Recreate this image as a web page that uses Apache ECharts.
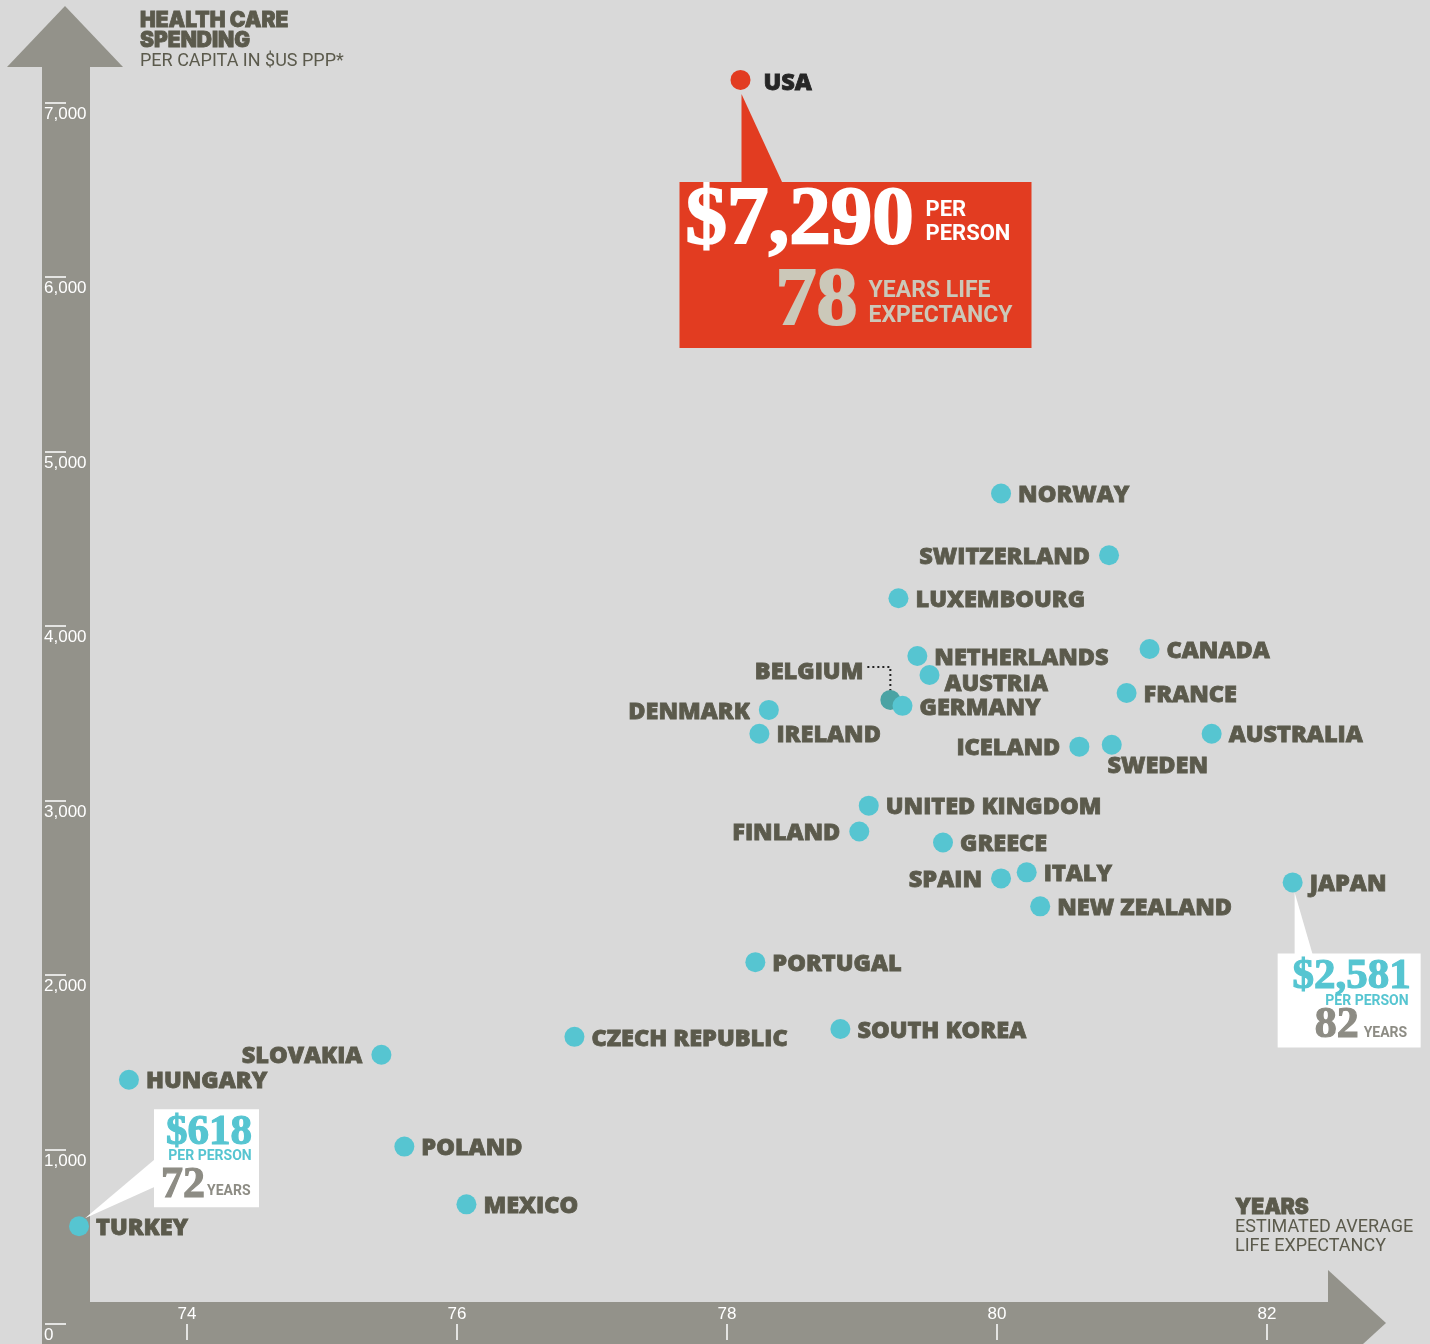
<!DOCTYPE html>
<html>
<head>
<meta charset="utf-8">
<title>Health care spending vs life expectancy</title>
<script src="https://cdn.jsdelivr.net/npm/echarts@6/dist/echarts.min.js"></script>
<style>
  html, body { margin: 0; padding: 0; background: #d9d9d9; }
  #chart { width: 1430px; height: 1344px; }
</style>
</head>
<body>
<div id="chart"></div>
<script>
// values (dot positions)
const countries = ['USA', 'NORWAY', 'SWITZERLAND', 'LUXEMBOURG', 'NETHERLANDS', 'CANADA', 'AUSTRIA',
  'BELGIUM', 'GERMANY', 'FRANCE', 'DENMARK', 'IRELAND', 'AUSTRALIA', 'ICELAND', 'SWEDEN',
  'UNITED KINGDOM', 'FINLAND', 'GREECE', 'ITALY', 'SPAIN', 'JAPAN', 'NEW ZEALAND', 'PORTUGAL',
  'SOUTH KOREA', 'CZECH REPUBLIC', 'SLOVAKIA', 'HUNGARY', 'POLAND', 'MEXICO', 'TURKEY'];
const lifeExpectancy = [78.10, 80.03, 80.83, 79.27, 79.41, 81.13, 79.50,
  79.21, 79.30, 80.96, 78.31, 78.24, 81.59, 80.61, 80.85,
  79.05, 78.98, 79.60, 80.22, 80.03, 82.19, 80.32, 78.21,
  78.84, 76.87, 75.44, 73.57, 75.61, 76.07, 73.20];
const spending = [7131, 4760, 4406, 4160, 3829, 3869, 3720,
  3577, 3543, 3617, 3520, 3383, 3383, 3309, 3320,
  2971, 2823, 2760, 2589, 2554, 2531, 2394, 2074,
  1691, 1646, 1543, 1400, 1017, 686, 560];

const xTicks = [74, 76, 78, 80, 82];
const yTicks = [0, 1000, 2000, 3000, 4000, 5000, 6000, 7000];

// callout boxes
const calloutCountry = ['USA', 'JAPAN', 'TURKEY'];
const calloutSpend = [7290, 2581, 618];
const calloutYears = [78, 82, 72];

const CYAN = '#56c5d1';
const RED = '#e23c21';
const INK = '#5b5a4c';
const AXIS_GREY = '#93928a';
const HEAVY = 'Open Sans';
const TITLE = 'Inter';
const PLAIN = 'Roboto';
const SERIF = 'Liberation Serif';

const labelLeft = ['SWITZERLAND', 'DENMARK', 'ICELAND', 'FINLAND', 'SPAIN', 'SLOVAKIA'];

function labelFor(name) {
  if (name === 'USA') return { position: 'right', distance: 13, offset: [0, 3], color: '#262626', textBorderColor: '#262626' };
  if (name === 'SWEDEN') return { position: 'bottom', distance: 0, offset: [46, 0] };
  if (name === 'AUSTRIA') return { position: 'right', distance: 5, offset: [0, 9] };
  if (name === 'BELGIUM') return { position: 'left', distance: 17, offset: [0, -28] };
  if (labelLeft.includes(name)) return { position: 'left', distance: 9, offset: [0, 2] };
  return { position: 'right', distance: 7, offset: [0, 2] };
}

const points = countries.map((name, i) => {
  const item = { name: name, value: [lifeExpectancy[i], spending[i]], label: labelFor(name) };
  if (name === 'USA') item.itemStyle = { color: RED };
  if (name === 'BELGIUM') item.itemStyle = { color: '#4aa3a4' };
  return item;
});

const chart = echarts.init(document.getElementById('chart'));

chart.setOption({
  backgroundColor: '#d9d9d9',
  animation: false,
  grid: { left: 52, right: 28, top: 15.5, bottom: 16 },
  xAxis: {
    type: 'value', min: 73, max: 83,
    axisLine: { show: false },
    splitLine: { show: false },
    axisTick: { show: true, inside: false, length: 16, customValues: xTicks,
      lineStyle: { color: '#ffffff', width: 1.5 } },
    axisLabel: { inside: true, margin: 1, customValues: xTicks, color: '#ffffff',
      fontSize: 17, fontFamily: 'Liberation Sans' }
  },
  yAxis: {
    type: 'value', min: 0, max: 7500, offset: -14,
    axisLine: { show: false },
    splitLine: { show: false },
    axisTick: { show: true, length: 21, customValues: yTicks,
      lineStyle: { color: '#ffffff', width: 1.5 } },
    axisLabel: { customValues: yTicks, align: 'left', verticalAlign: 'top', margin: 22,
      padding: [3, 0, 0, 0], color: '#ffffff', fontSize: 17, fontFamily: 'Liberation Sans',
      formatter: v => v.toLocaleString('en-US') }
  },
  series: [{
    type: 'scatter',
    symbolSize: 20,
    itemStyle: { color: CYAN, opacity: 1 },
    label: { show: true, formatter: '{b}', color: INK, fontFamily: HEAVY, fontWeight: 800,
      fontSize: 23.5, textBorderColor: INK, textBorderWidth: 0.8 },
    emphasis: { disabled: true },
    data: points
  }]
});

// decorations that hang off the data points
const px = name => {
  const i = countries.indexOf(name);
  return chart.convertToPixel({ seriesIndex: 0 }, [lifeExpectancy[i], spending[i]]);
};
const txt = (x, y, text, o) => ({
  type: 'text', x: x, y: y, z: o.z || 3,
  style: Object.assign({ text: text, fontFamily: PLAIN, fontWeight: 'bold', verticalAlign: 'middle' }, o.style)
});
const fat = (color, w) => ({ fill: color, fontFamily: SERIF, stroke: color, lineWidth: w });

const g = [];
// arrow-shaped axes
g.push({ type: 'rect', z: -1, shape: { x: 42, y: 67, width: 48, height: 1277 }, style: { fill: AXIS_GREY } });
g.push({ type: 'polygon', z: -1, shape: { points: [[7, 67], [123, 67], [65, 6]] }, style: { fill: AXIS_GREY } });
g.push({ type: 'rect', z: -1, shape: { x: 42, y: 1302, width: 1286, height: 42 }, style: { fill: AXIS_GREY } });
g.push({ type: 'polygon', z: -1, shape: { points: [[1328, 1270], [1386, 1323], [1328, 1376]] }, style: { fill: AXIS_GREY } });

// axis titles
g.push(txt(140, 11, 'HEALTH CARE\nSPENDING', { style: { fill: INK, stroke: INK, lineWidth: 0.8, fontFamily: TITLE, fontWeight: 900, fontSize: 21, lineHeight: 20, verticalAlign: 'top' } }));
g.push(txt(140, 61, 'PER CAPITA IN $US PPP*', { style: { fill: INK, fontWeight: 'normal', fontSize: 18 } }));
g.push(txt(1235, 1208, 'YEARS', { style: { fill: INK, stroke: INK, lineWidth: 0.8, fontFamily: TITLE, fontWeight: 900, fontSize: 21 } }));
g.push(txt(1235, 1217.5, 'ESTIMATED AVERAGE\nLIFE EXPECTANCY', { style: { fill: INK, fontWeight: 'normal', fontSize: 18, lineHeight: 19, verticalAlign: 'top' } }));

const money = v => '$' + v.toLocaleString('en-US');

// USA callout
{
  const k = calloutCountry.indexOf('USA');
  const [x, y] = px('USA');
  const bx = x - 61, by = y + 102;
  g.push({ type: 'polygon', z: 1, shape: { points: [[x + 1, y + 14], [x + 1, by + 1], [x + 42, by + 1]] }, style: { fill: RED } });
  g.push({ type: 'rect', z: 1, shape: { x: bx, y: by, width: 352, height: 166 }, style: { fill: RED } });
  g.push(txt(bx + 6, by + 40, money(calloutSpend[k]), { style: Object.assign(fat('#ffffff', 2), { fontSize: 83 }) }));
  g.push(txt(bx + 246, by + 17, 'PER\nPERSON', { style: { fill: '#ffffff', fontSize: 22, lineHeight: 24, verticalAlign: 'top' } }));
  g.push(txt(bx + 96, by + 121, String(calloutYears[k]), { style: Object.assign(fat('#cbc8b9', 2), { fontSize: 82 }) }));
  g.push(txt(bx + 189, by + 96.5, 'YEARS LIFE\nEXPECTANCY', { style: { fill: '#cbc8b9', fontSize: 23, lineHeight: 25, verticalAlign: 'top' } }));
}

// Japan callout
{
  const k = calloutCountry.indexOf('JAPAN');
  const [x, y] = px('JAPAN');
  const bx = x - 15, by = y + 71;
  g.push({ type: 'polygon', z: 1, shape: { points: [[x + 2, y + 10], [x + 2, by + 1], [x + 20, by + 1]] }, style: { fill: '#ffffff' } });
  g.push({ type: 'rect', z: 1, shape: { x: bx, y: by, width: 143, height: 94 }, style: { fill: '#ffffff' } });
  g.push(txt(bx + 133, by + 23, money(calloutSpend[k]), { style: Object.assign(fat(CYAN, 1.2), { fontSize: 43, align: 'right' }) }));
  g.push(txt(bx + 131, by + 48, 'PER PERSON', { style: { fill: CYAN, fontSize: 14, align: 'right' } }));
  g.push(txt(bx + 37, by + 72, String(calloutYears[k]), { style: Object.assign(fat('#8d8c84', 1.2), { fontSize: 44 }) }));
  g.push(txt(bx + 86, by + 80, 'YEARS', { style: { fill: '#8d8c84', fontSize: 14 } }));
}

// Turkey callout
{
  const k = calloutCountry.indexOf('TURKEY');
  const [x, y] = px('TURKEY');
  const bx = x + 75, by = y - 117;
  g.push({ type: 'polygon', z: 1, shape: { points: [[x + 6, y - 8], [bx + 2, y - 68], [bx + 2, y - 40]] }, style: { fill: '#ffffff' } });
  g.push({ type: 'rect', z: 1, shape: { x: bx, y: by, width: 105, height: 98 }, style: { fill: '#ffffff' } });
  g.push(txt(bx + 55, by + 24, money(calloutSpend[k]), { style: Object.assign(fat(CYAN, 1.2), { fontSize: 43, align: 'center' }) }));
  g.push(txt(bx + 56, by + 47, 'PER PERSON', { style: { fill: CYAN, fontSize: 14, align: 'center' } }));
  g.push(txt(bx + 7, by + 76, String(calloutYears[k]), { style: Object.assign(fat('#8d8c84', 1.2), { fontSize: 44 }) }));
  g.push(txt(bx + 53, by + 82, 'YEARS', { style: { fill: '#8d8c84', fontSize: 14 } }));
}

// Belgium leader line
{
  const [x, y] = px('BELGIUM');
  g.push({ type: 'polyline', z: 1, shape: { points: [[x - 23, y - 33], [x, y - 33], [x, y - 6]] },
    style: { stroke: '#222222', lineWidth: 2, lineDash: [2, 3], fill: null } });
}

chart.setOption({ graphic: g });
</script>
</body>
</html>
